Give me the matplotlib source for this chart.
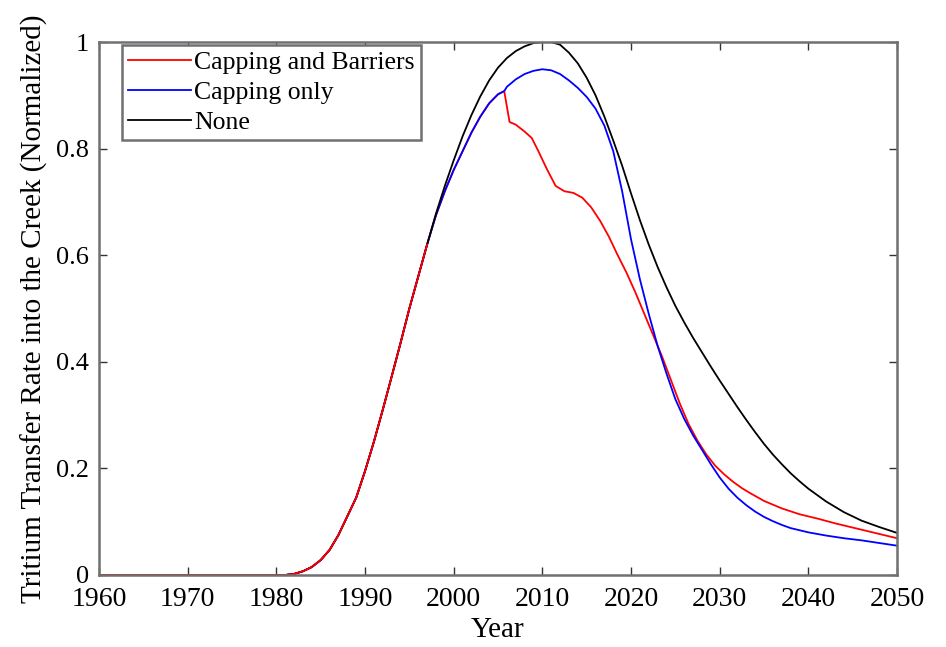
import matplotlib
matplotlib.use('Agg')
from matplotlib import rcParams
rcParams['font.size'] = 20
rcParams['font.family'] = ['Liberation Serif', 'DejaVu Serif']
import matplotlib.pyplot as plt
from matplotlib.ticker import FormatStrFormatter

# shared rising limb (all three scenarios are nearly the same up to ~1997)
yrs_rise = [1960, 1965, 1970, 1975, 1980, 1981, 1982, 1983, 1984, 1985, 1986, 1987,
            1988, 1989, 1990, 1991, 1992, 1993, 1994, 1995, 1996, 1997]
val_rise = [0, 0, 0, 0, 0, 0, 0.002, 0.007, 0.015, 0.028, 0.047, 0.075,
            0.11, 0.145, 0.195, 0.25, 0.31, 0.372, 0.435, 0.5, 0.56, 0.62]

# Capping and Barriers
yrs_cb = [1998, 1999, 2000, 2001, 2002, 2003, 2004, 2005, 2005.7, 2006.3, 2007,
          2008, 2008.8, 2009.5, 2010.5, 2011.5, 2012.5, 2013.5, 2014.5, 2015.5,
          2016.5, 2017.5, 2018.5, 2019.5, 2020.5, 2021.5, 2022.5, 2023.5, 2024.5,
          2025.5, 2026.5, 2027.5, 2028.5, 2029.5, 2030.5, 2031.5, 2032.5, 2033.5,
          2035, 2037, 2039, 2041, 2043, 2045, 2047, 2050]
val_cb = [0.675, 0.72, 0.76, 0.795, 0.83, 0.86, 0.885, 0.902, 0.908, 0.85, 0.845,
          0.832, 0.82, 0.797, 0.762, 0.73, 0.72, 0.717, 0.708, 0.69,
          0.665, 0.635, 0.6, 0.567, 0.53, 0.49, 0.45, 0.41, 0.366,
          0.322, 0.283, 0.252, 0.226, 0.205, 0.189, 0.175, 0.163, 0.153,
          0.139, 0.125, 0.114, 0.106, 0.097, 0.089, 0.081, 0.069]

# Capping only
yrs_c = [1998, 1999, 2000, 2001, 2002, 2003, 2004, 2005, 2005.7, 2006, 2007, 2008,
         2009, 2010, 2011, 2012, 2013, 2014, 2015, 2016, 2017, 2018, 2019, 2020,
         2021, 2022, 2023, 2024, 2025, 2026, 2027, 2028, 2029, 2030, 2031, 2032,
         2033, 2034, 2035, 2036, 2037, 2038, 2040, 2042, 2044, 2046, 2048, 2050]
val_c = [0.675, 0.72, 0.76, 0.795, 0.83, 0.86, 0.885, 0.902, 0.908, 0.916, 0.93, 0.94,
         0.946, 0.949, 0.947, 0.94, 0.928, 0.914, 0.897, 0.875, 0.843, 0.795, 0.72, 0.63,
         0.555, 0.49, 0.43, 0.378, 0.33, 0.293, 0.262, 0.235, 0.208, 0.183, 0.162, 0.145,
         0.131, 0.119, 0.109, 0.101, 0.094, 0.088, 0.08, 0.074, 0.069, 0.065, 0.06, 0.055]

# None
yrs_n = [1998, 1999, 2000, 2001, 2002, 2003, 2004, 2005, 2006, 2007, 2008, 2009,
         2010, 2011, 2012, 2013, 2014, 2015, 2016, 2017, 2018, 2019, 2020, 2021,
         2022, 2023, 2024, 2025, 2026, 2027, 2028, 2029, 2030, 2031, 2032, 2033,
         2034, 2035, 2036, 2037, 2038, 2039, 2040, 2042, 2044, 2046, 2048, 2050]
val_n = [0.678, 0.73, 0.778, 0.823, 0.863, 0.898, 0.928, 0.952, 0.97, 0.983, 0.992, 0.998,
         1.0, 1.0, 0.995, 0.98, 0.96, 0.933, 0.9, 0.86, 0.815, 0.768, 0.716, 0.666,
         0.62, 0.578, 0.54, 0.505, 0.474, 0.445, 0.418, 0.391, 0.365, 0.34, 0.315, 0.291,
         0.268, 0.246, 0.226, 0.208, 0.191, 0.176, 0.162, 0.138, 0.118, 0.102, 0.09, 0.079]

fig = plt.figure(figsize=(9.46, 6.47), dpi=100)
ax = fig.add_axes([0.1047, 0.1113, 0.8435, 0.8237])

ax.plot(yrs_rise + yrs_cb, val_rise + val_cb, color='#ff0000', lw=1.3, label='Capping and Barriers')
ax.plot(yrs_rise + yrs_c, val_rise + val_c, color='#0000ff', lw=1.3, label='Capping only')
ax.plot(yrs_rise + yrs_n, val_rise + val_n, color='k', lw=1.3, label='None')
# red drawn on top for the shared part
ax.plot(yrs_rise, val_rise, color='#ff0000', lw=1.3)

ax.set_xlim(1960, 2050)
ax.set_ylim(0, 1)
ax.set_xticks(range(1960, 2051, 10))
ax.set_yticks([0, 0.2, 0.4, 0.6, 0.8, 1])
ax.yaxis.set_major_formatter(FormatStrFormatter('%g'))
ax.set_xlabel('Year', fontsize=21, labelpad=3)
ax.set_ylabel('Tritium Transfer Rate into the Creek (Normalized)', fontsize=21, labelpad=6)

for s in ax.spines.values():
    s.set_color('#707070')
    s.set_linewidth(1.8)
ax.tick_params(axis='both', which='major', direction='in', top=True, right=True,
               length=6, width=1.0, color='#333333')
ax.tick_params(axis='x', pad=9)
ax.tick_params(axis='y', pad=7, labelsize=19)

lgd = ax.legend(loc='upper left', bbox_to_anchor=(0.0288, 0.994), fontsize=18.5,
                fancybox=False, framealpha=1, edgecolor='#707070', borderpad=0.22,
                handlelength=2.45, handletextpad=0.15, labelspacing=0.28,
                borderaxespad=0.0)
lgd.get_frame().set_linewidth(1.8)

fig.savefig('out.png', dpi=100)
plt.close(fig)
